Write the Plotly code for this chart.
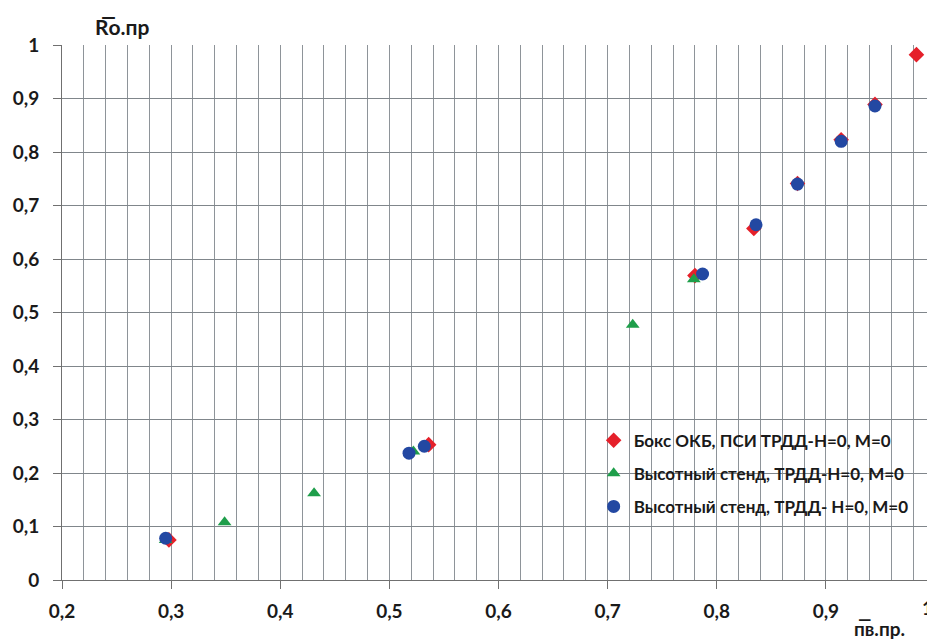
import plotly.graph_objects as go

# Series: Бокс ОКБ, ПСИ ТРДД-Н=0, М=0
box_x = [0.298, 0.536, 0.780, 0.834, 0.874, 0.914, 0.945, 0.983]
box_y = [0.075, 0.253, 0.569, 0.657, 0.741, 0.823, 0.889, 0.982]
# Series: Высотный стенд, ТРДД-Н=0, М=0 (triangles)
alt1_x = [0.295, 0.349, 0.431, 0.522, 0.723, 0.779]
alt1_y = [0.075, 0.108, 0.162, 0.240, 0.477, 0.562]
# Series: Высотный стенд, ТРДД- Н=0, М=0 (circles)
alt2_x = [0.295, 0.518, 0.532, 0.787, 0.836, 0.874, 0.914, 0.945]
alt2_y = [0.078, 0.237, 0.250, 0.572, 0.664, 0.740, 0.820, 0.886]

names = ["Бокс ОКБ, ПСИ ТРДД-Н=0, М=0",
         "Высотный стенд, ТРДД-Н=0, М=0",
         "Высотный стенд, ТРДД- Н=0, М=0"]

x_ticks = [0.2, 0.3, 0.4, 0.5, 0.6, 0.7, 0.8, 0.9, 1.0]
x_labels = ["0,2", "0,3", "0,4", "0,5", "0,6", "0,7", "0,8", "0,9", "1"]
y_ticks = [0, 0.1, 0.2, 0.3, 0.4, 0.5, 0.6, 0.7, 0.8, 0.9, 1.0]
y_labels = ["0", "0,1", "0,2", "0,3", "0,4", "0,5", "0,6", "0,7", "0,8", "0,9", "1"]

FONT = "Lato"
TXT = "#1a1a1a"
fig = go.Figure()
fig.add_trace(go.Scatter(x=box_x, y=box_y, mode="markers", name=names[0], legendgroup="a",
                         marker=dict(symbol="diamond", size=12, color="#e5202a")))
fig.add_trace(go.Scatter(x=alt1_x, y=alt1_y, mode="markers", name=names[1], legendgroup="b",
                         marker=dict(symbol="triangle-up", size=12, color="#1e9e4a")))
fig.add_trace(go.Scatter(x=alt2_x, y=alt2_y, mode="markers", name=names[2], legendgroup="c",
                         marker=dict(symbol="circle", size=13, color="#2348a2")))

grid_col = "#8e9499"
fig.update_layout(
    width=927, height=636,
    margin=dict(l=54, r=0, t=37, b=64, autoexpand=False),
    plot_bgcolor="white", paper_bgcolor="white",
    separators=", ",
    font=dict(family=FONT, size=18, color=TXT),
    showlegend=True,
    legend=dict(x=0.609, y=0.294, xanchor="left", yanchor="top",
                bgcolor="rgba(0,0,0,0)", tracegroupgap=8, itemwidth=30,
                font=dict(family=FONT, size=17, color=TXT, weight="bold")),
    xaxis=dict(range=[0.2, 1.0], tickvals=x_ticks, ticktext=x_labels,
               showgrid=False, zeroline=False, automargin=False,
               showline=True, linecolor="#707070", linewidth=1,
               ticks="outside", ticklen=8, tickcolor="#707070",
               ticklabelstandoff=6,
               tickfont=dict(family=FONT, size=19, color=TXT, weight="bold"),
               minor=dict(dtick=0.02, tick0=0.2, showgrid=True, gridcolor=grid_col, gridwidth=1)),
    yaxis=dict(range=[0, 1.0], tickvals=y_ticks, ticktext=y_labels,
               showgrid=True, gridcolor="#80868b", gridwidth=1, zeroline=False, automargin=False,
               showline=True, linecolor="#707070", linewidth=1,
               ticks="outside", ticklen=8, tickcolor="#707070",
               ticklabelstandoff=10,
               tickfont=dict(family=FONT, size=19, color=TXT, weight="bold")),
)

# last x tick label "1" sits at the right edge of the page; keep it visible
fig.add_annotation(text=x_labels[-1], xref="x", yref="paper", x=x_ticks[-1], y=0.0,
                   xanchor="right", yanchor="top", yshift=-14, showarrow=False,
                   font=dict(family=FONT, size=19, color=TXT, weight="bold"))
fig.add_annotation(text="R\u0305о.пр", xref="paper", yref="paper", x=0.036, y=1.0,
                   xanchor="left", yanchor="bottom", yshift=4, showarrow=False,
                   font=dict(family=FONT, size=21, color=TXT, weight="bold"))
fig.add_annotation(text="п\u0305в.пр.", xref="paper", yref="paper", x=0.905, y=0.0,
                   xanchor="left", yanchor="bottom", yshift=-62, showarrow=False,
                   font=dict(family=FONT, size=19, color=TXT, weight="bold"))

fig.write_html("out.html")
